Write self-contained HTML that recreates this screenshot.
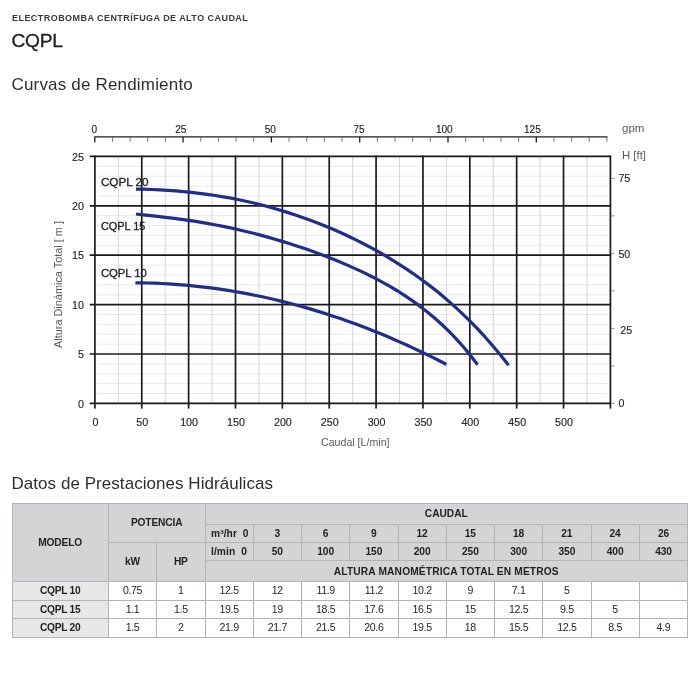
<!DOCTYPE html>
<html lang="es"><head><meta charset="utf-8"><title>CQPL</title>
<style>
html,body{margin:0;padding:0;background:#fff;}
body{width:700px;height:700px;position:relative;overflow:hidden;font-family:"Liberation Sans",sans-serif;color:#262626;}
#sub{position:absolute;left:12px;top:11.5px;font-size:9px;line-height:12px;font-weight:bold;letter-spacing:0.45px;white-space:nowrap;color:#3a3a3a;transform-origin:0 0;}
#ttl{position:absolute;left:11.5px;top:28.7px;font-size:19.2px;-webkit-text-stroke:0.3px #1e1e1e;letter-spacing:-0.3px;line-height:24px;white-space:nowrap;color:#1e1e1e;transform-origin:0 0;}
.h2{position:absolute;left:11.5px;font-size:17px;letter-spacing:0.18px;line-height:22px;white-space:nowrap;color:#2e2e2e;font-weight:normal;margin:0;transform-origin:0 0;}
#h2a{top:73.5px;}
#h2b{top:473px;letter-spacing:0.05px;}
#chart{position:absolute;left:0;top:0;}
#tbl{position:absolute;left:11.5px;top:502.75px;width:675.5px;border-collapse:collapse;table-layout:fixed;font-size:10.3px;}
#tbl th,#tbl td{border:1px solid #b4b4b4;padding:0;text-align:center;vertical-align:middle;line-height:11px;overflow:hidden;white-space:nowrap;}
#tbl th{background:#d3d4d6;font-weight:bold;color:#222;font-size:10.2px;letter-spacing:-0.15px;}
#tbl th.l{text-align:left;padding-left:5.5px;letter-spacing:0.1px;}
#tbl td{background:#fff;color:#262626;font-size:10.6px;letter-spacing:-0.35px;}
#tbl td.m{background:#e7e7e8;font-weight:bold;color:#222;font-size:10.2px;letter-spacing:-0.25px;}
</style></head><body>
<div id="sub">ELECTROBOMBA CENTRÍFUGA DE ALTO CAUDAL</div>
<div id="ttl">CQPL</div>
<h2 class="h2" id="h2a">Curvas de Rendimiento</h2>
<svg id="chart" width="700" height="460" viewBox="0 0 700 460">
<g stroke="#e9e9e9" stroke-width="1" shape-rendering="auto">
<line x1="97.3" x2="607.8" y1="393.52" y2="393.52"/>
<line x1="97.3" x2="607.8" y1="383.64" y2="383.64"/>
<line x1="97.3" x2="607.8" y1="373.76" y2="373.76"/>
<line x1="97.3" x2="607.8" y1="363.88" y2="363.88"/>
<line x1="97.3" x2="607.8" y1="344.12" y2="344.12"/>
<line x1="97.3" x2="607.8" y1="334.24" y2="334.24"/>
<line x1="97.3" x2="607.8" y1="324.36" y2="324.36"/>
<line x1="97.3" x2="607.8" y1="314.48" y2="314.48"/>
<line x1="97.3" x2="607.8" y1="294.72" y2="294.72"/>
<line x1="97.3" x2="607.8" y1="284.84" y2="284.84"/>
<line x1="97.3" x2="607.8" y1="274.96" y2="274.96"/>
<line x1="97.3" x2="607.8" y1="265.08" y2="265.08"/>
<line x1="97.3" x2="607.8" y1="245.32" y2="245.32"/>
<line x1="97.3" x2="607.8" y1="235.44" y2="235.44"/>
<line x1="97.3" x2="607.8" y1="225.56" y2="225.56"/>
<line x1="97.3" x2="607.8" y1="215.68" y2="215.68"/>
<line x1="97.3" x2="607.8" y1="195.92" y2="195.92"/>
<line x1="97.3" x2="607.8" y1="186.04" y2="186.04"/>
<line x1="97.3" x2="607.8" y1="176.16" y2="176.16"/>
<line x1="97.3" x2="607.8" y1="166.28" y2="166.28"/>
</g>
<g stroke="#d6d6d6" stroke-width="1">
<line x1="118.33" x2="118.33" y1="156.4" y2="403.4"/>
<line x1="165.20" x2="165.20" y1="156.4" y2="403.4"/>
<line x1="212.06" x2="212.06" y1="156.4" y2="403.4"/>
<line x1="258.92" x2="258.92" y1="156.4" y2="403.4"/>
<line x1="305.79" x2="305.79" y1="156.4" y2="403.4"/>
<line x1="352.65" x2="352.65" y1="156.4" y2="403.4"/>
<line x1="399.51" x2="399.51" y1="156.4" y2="403.4"/>
<line x1="446.38" x2="446.38" y1="156.4" y2="403.4"/>
<line x1="493.24" x2="493.24" y1="156.4" y2="403.4"/>
<line x1="540.10" x2="540.10" y1="156.4" y2="403.4"/>
<line x1="586.97" x2="586.97" y1="156.4" y2="403.4"/>
</g>
<g stroke="#1a1a1a" stroke-width="1.7">
<line x1="94.90" x2="94.90" y1="155.6" y2="408.6"/>
<line x1="141.76" x2="141.76" y1="155.6" y2="408.6"/>
<line x1="188.63" x2="188.63" y1="155.6" y2="408.6"/>
<line x1="235.49" x2="235.49" y1="155.6" y2="408.6"/>
<line x1="282.35" x2="282.35" y1="155.6" y2="408.6"/>
<line x1="329.22" x2="329.22" y1="155.6" y2="408.6"/>
<line x1="376.08" x2="376.08" y1="155.6" y2="408.6"/>
<line x1="422.95" x2="422.95" y1="155.6" y2="408.6"/>
<line x1="469.81" x2="469.81" y1="155.6" y2="408.6"/>
<line x1="516.67" x2="516.67" y1="155.6" y2="408.6"/>
<line x1="563.54" x2="563.54" y1="155.6" y2="408.6"/>
<line x1="610.40" x2="610.40" y1="155.6" y2="408.6"/>
<line x1="89.7" x2="611.2" y1="403.40" y2="403.40"/>
<line x1="89.7" x2="611.2" y1="354.00" y2="354.00"/>
<line x1="89.7" x2="611.2" y1="304.60" y2="304.60"/>
<line x1="89.7" x2="611.2" y1="255.20" y2="255.20"/>
<line x1="89.7" x2="611.2" y1="205.80" y2="205.80"/>
<line x1="89.7" x2="611.2" y1="156.40" y2="156.40"/>
</g>
<g stroke="#1f1f1f" stroke-width="1.25">
<line x1="94.4" x2="607.4" y1="136.8" y2="136.8"/>
<line x1="94.80" x2="94.80" y1="136.8" y2="142.4" stroke-width="1.3"/>
<line x1="112.46" x2="112.46" y1="136.8" y2="141.8" stroke-width="0.8" stroke="#555"/>
<line x1="130.12" x2="130.12" y1="136.8" y2="141.8" stroke-width="0.8" stroke="#555"/>
<line x1="147.78" x2="147.78" y1="136.8" y2="141.8" stroke-width="0.8" stroke="#555"/>
<line x1="165.44" x2="165.44" y1="136.8" y2="141.8" stroke-width="0.8" stroke="#555"/>
<line x1="183.10" x2="183.10" y1="136.8" y2="142.4" stroke-width="1.3"/>
<line x1="200.76" x2="200.76" y1="136.8" y2="141.8" stroke-width="0.8" stroke="#555"/>
<line x1="218.42" x2="218.42" y1="136.8" y2="141.8" stroke-width="0.8" stroke="#555"/>
<line x1="236.08" x2="236.08" y1="136.8" y2="141.8" stroke-width="0.8" stroke="#555"/>
<line x1="253.74" x2="253.74" y1="136.8" y2="141.8" stroke-width="0.8" stroke="#555"/>
<line x1="271.40" x2="271.40" y1="136.8" y2="142.4" stroke-width="1.3"/>
<line x1="289.06" x2="289.06" y1="136.8" y2="141.8" stroke-width="0.8" stroke="#555"/>
<line x1="306.72" x2="306.72" y1="136.8" y2="141.8" stroke-width="0.8" stroke="#555"/>
<line x1="324.38" x2="324.38" y1="136.8" y2="141.8" stroke-width="0.8" stroke="#555"/>
<line x1="342.04" x2="342.04" y1="136.8" y2="141.8" stroke-width="0.8" stroke="#555"/>
<line x1="359.70" x2="359.70" y1="136.8" y2="142.4" stroke-width="1.3"/>
<line x1="377.36" x2="377.36" y1="136.8" y2="141.8" stroke-width="0.8" stroke="#555"/>
<line x1="395.02" x2="395.02" y1="136.8" y2="141.8" stroke-width="0.8" stroke="#555"/>
<line x1="412.68" x2="412.68" y1="136.8" y2="141.8" stroke-width="0.8" stroke="#555"/>
<line x1="430.34" x2="430.34" y1="136.8" y2="141.8" stroke-width="0.8" stroke="#555"/>
<line x1="448.00" x2="448.00" y1="136.8" y2="142.4" stroke-width="1.3"/>
<line x1="465.66" x2="465.66" y1="136.8" y2="141.8" stroke-width="0.8" stroke="#555"/>
<line x1="483.32" x2="483.32" y1="136.8" y2="141.8" stroke-width="0.8" stroke="#555"/>
<line x1="500.98" x2="500.98" y1="136.8" y2="141.8" stroke-width="0.8" stroke="#555"/>
<line x1="518.64" x2="518.64" y1="136.8" y2="141.8" stroke-width="0.8" stroke="#555"/>
<line x1="536.30" x2="536.30" y1="136.8" y2="142.4" stroke-width="1.3"/>
<line x1="553.96" x2="553.96" y1="136.8" y2="141.8" stroke-width="0.8" stroke="#555"/>
<line x1="571.62" x2="571.62" y1="136.8" y2="141.8" stroke-width="0.8" stroke="#555"/>
<line x1="589.28" x2="589.28" y1="136.8" y2="141.8" stroke-width="0.8" stroke="#555"/>
<line x1="606.94" x2="606.94" y1="136.8" y2="141.8" stroke-width="0.8" stroke="#555"/>
</g>
<g stroke="#8a8a8a" stroke-width="0.9">
<line x1="611.1" x2="614.6" y1="403.40" y2="403.40"/>
<line x1="611.1" x2="614.6" y1="365.90" y2="365.90"/>
<line x1="611.1" x2="614.6" y1="328.40" y2="328.40"/>
<line x1="611.1" x2="614.6" y1="290.90" y2="290.90"/>
<line x1="611.1" x2="614.6" y1="253.40" y2="253.40"/>
<line x1="611.1" x2="614.6" y1="215.90" y2="215.90"/>
<line x1="611.1" x2="614.6" y1="178.40" y2="178.40"/>
</g>
<g fill="none" stroke="#202d8c" stroke-width="3.2" stroke-linejoin="round">
<path d="M136.0 189.1 L143.9 189.2 L151.9 189.5 L159.8 189.9 L167.7 190.4 L175.6 190.9 L183.6 191.6 L191.5 192.4 L199.4 193.3 L207.3 194.3 L215.3 195.5 L223.2 196.8 L231.1 198.2 L239.1 199.8 L247.0 201.5 L254.9 203.3 L262.8 205.3 L270.8 207.4 L278.7 209.7 L286.6 212.1 L294.6 214.7 L302.5 217.4 L310.4 220.3 L318.3 223.3 L326.3 226.5 L334.2 229.8 L342.1 233.3 L350.0 237.0 L358.0 240.9 L365.9 245.0 L373.8 249.2 L381.8 253.7 L389.7 258.4 L397.6 263.3 L405.5 268.4 L413.5 273.8 L421.4 279.5 L429.3 285.4 L437.3 291.6 L445.2 298.2 L453.1 305.1 L461.0 312.4 L469.0 320.1 L476.9 328.1 L484.8 336.7 L492.7 345.7 L500.7 355.2 L508.6 365.2"/>
<path d="M136.0 214.0 L143.3 214.8 L150.5 215.6 L157.8 216.4 L165.1 217.3 L172.3 218.2 L179.6 219.1 L186.9 220.2 L194.1 221.2 L201.4 222.4 L208.7 223.7 L215.9 225.0 L223.2 226.4 L230.5 227.9 L237.8 229.5 L245.0 231.2 L252.3 233.0 L259.6 234.9 L266.8 236.9 L274.1 239.0 L281.4 241.1 L288.6 243.3 L295.9 245.7 L303.2 248.1 L310.4 250.6 L317.7 253.3 L325.0 256.0 L332.2 258.8 L339.5 261.8 L346.8 264.9 L354.0 268.1 L361.3 271.4 L368.6 275.0 L375.8 278.7 L383.1 282.6 L390.4 286.7 L397.7 291.0 L404.9 295.7 L412.2 300.6 L419.5 305.9 L426.7 311.5 L434.0 317.5 L441.3 324.0 L448.5 330.9 L455.8 338.4 L463.1 346.5 L470.3 355.3 L477.6 364.8"/>
<path d="M135.4 282.8 L142.0 282.8 L148.6 283.0 L155.3 283.2 L161.9 283.5 L168.5 283.9 L175.1 284.3 L181.7 284.8 L188.3 285.4 L195.0 286.1 L201.6 286.8 L208.2 287.6 L214.8 288.4 L221.4 289.4 L228.0 290.4 L234.7 291.5 L241.3 292.6 L247.9 293.9 L254.5 295.2 L261.1 296.5 L267.7 298.0 L274.4 299.5 L281.0 301.1 L287.6 302.7 L294.2 304.5 L300.8 306.3 L307.4 308.1 L314.1 310.1 L320.7 312.1 L327.3 314.2 L333.9 316.4 L340.5 318.6 L347.1 320.9 L353.8 323.3 L360.4 325.8 L367.0 328.3 L373.6 330.9 L380.2 333.6 L386.8 336.3 L393.5 339.2 L400.1 342.1 L406.7 345.0 L413.3 348.1 L419.9 351.2 L426.5 354.4 L433.2 357.6 L439.8 361.0 L446.4 364.4"/>
</g>
<g font-family="Liberation Sans, sans-serif" font-size="10.7" fill="#262626" stroke="#262626" stroke-width="0.15">
<text x="84" y="407.6" text-anchor="end">0</text>
<text x="84" y="358.2" text-anchor="end">5</text>
<text x="84" y="308.8" text-anchor="end">10</text>
<text x="84" y="259.4" text-anchor="end">15</text>
<text x="84" y="210.0" text-anchor="end">20</text>
<text x="84" y="160.6" text-anchor="end">25</text>
<text x="95.4" y="425.6" text-anchor="middle">0</text>
<text x="142.3" y="425.6" text-anchor="middle">50</text>
<text x="189.1" y="425.6" text-anchor="middle">100</text>
<text x="236.0" y="425.6" text-anchor="middle">150</text>
<text x="282.9" y="425.6" text-anchor="middle">200</text>
<text x="329.7" y="425.6" text-anchor="middle">250</text>
<text x="376.6" y="425.6" text-anchor="middle">300</text>
<text x="423.4" y="425.6" text-anchor="middle">350</text>
<text x="470.3" y="425.6" text-anchor="middle">400</text>
<text x="517.2" y="425.6" text-anchor="middle">450</text>
<text x="564.0" y="425.6" text-anchor="middle">500</text>
<text x="94.4" y="132.6" text-anchor="middle" font-size="10.1">0</text>
<text x="180.8" y="132.6" text-anchor="middle" font-size="10.1">25</text>
<text x="270.3" y="132.6" text-anchor="middle" font-size="10.1">50</text>
<text x="359.1" y="132.6" text-anchor="middle" font-size="10.1">75</text>
<text x="444.3" y="132.6" text-anchor="middle" font-size="10.1">100</text>
<text x="532.4" y="132.6" text-anchor="middle" font-size="10.1">125</text>
<text x="618.4" y="407.1">0</text>
<text x="620.2" y="333.9">25</text>
<text x="618.4" y="257.8">50</text>
<text x="618.4" y="182.2">75</text>
</g>
<g font-family="Liberation Sans, sans-serif" font-size="10.5" fill="#5a5a5a">
<text x="622" y="132.2" textLength="22.5" lengthAdjust="spacingAndGlyphs">gpm</text>
<text x="622" y="158.7" textLength="24" lengthAdjust="spacingAndGlyphs">H [ft]</text>
<text x="321" y="445.8" textLength="68.5" lengthAdjust="spacingAndGlyphs">Caudal [L/min]</text>
<text transform="translate(62.4 348) rotate(-90)" textLength="127" lengthAdjust="spacingAndGlyphs">Altura Dinámica Total [ m ]</text>
</g>
<g font-family="Liberation Sans, sans-serif" font-size="10.8" fill="#1e1e1e" stroke="#1e1e1e" stroke-width="0.3">
<text x="100.9" y="185.8" textLength="47.7" lengthAdjust="spacingAndGlyphs">CQPL 20</text>
<text x="100.9" y="230.1" textLength="44.5" lengthAdjust="spacingAndGlyphs">CQPL 15</text>
<text x="100.9" y="277.2" textLength="46" lengthAdjust="spacingAndGlyphs">CQPL 10</text>
</g>
</svg>
<h2 class="h2" id="h2b">Datos de Prestaciones Hidráulicas</h2>
<table id="tbl"><colgroup><col style="width:96.3px"><col style="width:48.4px"><col style="width:48.3px"><col style="width:48.25px"><col style="width:48.25px"><col style="width:48.25px"><col style="width:48.25px"><col style="width:48.25px"><col style="width:48.25px"><col style="width:48.25px"><col style="width:48.25px"><col style="width:48.25px"><col style="width:48.25px"></colgroup>
<tr class="h" style="height:21.25px"><th rowspan="4">MODELO</th><th colspan="2" rowspan="2">POTENCIA</th><th colspan="10" style="letter-spacing:0px">CAUDAL</th></tr>
<tr class="h" style="height:17.5px"><th class="l">m³/hr&nbsp; 0</th><th>3</th><th>6</th><th>9</th><th>12</th><th>15</th><th>18</th><th>21</th><th>24</th><th>26</th></tr>
<tr class="h" style="height:18.5px"><th rowspan="2">kW</th><th rowspan="2">HP</th><th class="l">l/min&nbsp; 0</th><th>50</th><th>100</th><th>150</th><th>200</th><th>250</th><th>300</th><th>350</th><th>400</th><th>430</th></tr>
<tr class="h" style="height:21px"><th colspan="10" style="letter-spacing:0.15px">ALTURA MANOMÉTRICA TOTAL EN METROS</th></tr>
<tr class="d" style="height:18.5px"><td class="m">CQPL 10</td><td>0.75</td><td>1</td><td>12.5</td><td>12</td><td>11.9</td><td>11.2</td><td>10.2</td><td>9</td><td>7.1</td><td>5</td><td></td><td></td></tr>
<tr class="d" style="height:18.5px"><td class="m">CQPL 15</td><td>1.1</td><td>1.5</td><td>19.5</td><td>19</td><td>18.5</td><td>17.6</td><td>16.5</td><td>15</td><td>12.5</td><td>9.5</td><td>5</td><td></td></tr>
<tr class="d" style="height:18.5px"><td class="m">CQPL 20</td><td>1.5</td><td>2</td><td>21.9</td><td>21.7</td><td>21.5</td><td>20.6</td><td>19.5</td><td>18</td><td>15.5</td><td>12.5</td><td>8.5</td><td>4.9</td></tr>
</table>
</body></html>
